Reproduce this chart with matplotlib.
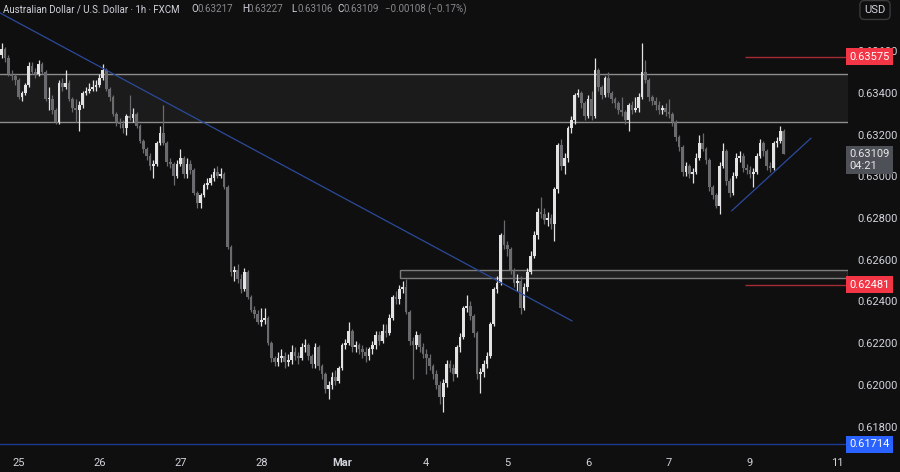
import matplotlib.pyplot as plt
from matplotlib import font_manager
from matplotlib.patches import Rectangle
import numpy as np

# AUD/USD 1h candles (open of each bar = previous close)
first_open = 0.6358
close = [0.6361, 0.6357, 0.6349, 0.6348, 0.6346, 0.6338, 0.6340, 0.6344, 0.6353, 0.6350, 0.6349, 0.6354,
         0.6350, 0.6337, 0.6337, 0.6332, 0.6326, 0.6345, 0.6343, 0.6345, 0.6337, 0.6333, 0.6332, 0.6334,
         0.6340, 0.6341, 0.6342, 0.6343, 0.6344, 0.6347, 0.6351, 0.6342, 0.6338, 0.6330, 0.6326, 0.6325,
         0.6323, 0.6329, 0.6328, 0.6330, 0.6324, 0.6317, 0.6313, 0.6310, 0.6305, 0.6306, 0.6316, 0.6321,
         0.6316, 0.6307, 0.6306, 0.6300, 0.6306, 0.6309, 0.6301, 0.6306, 0.6303, 0.6292, 0.6287, 0.6291,
         0.6296, 0.6297, 0.6299, 0.6302, 0.6300, 0.6301, 0.6295, 0.6266, 0.6254, 0.6255, 0.6251, 0.6246,
         0.6254, 0.6242, 0.6236, 0.6234, 0.6230, 0.6231, 0.6232, 0.6220, 0.6213, 0.6211, 0.6213, 0.6214,
         0.6211, 0.6212, 0.6216, 0.6214, 0.6213, 0.6218, 0.6219, 0.6214, 0.6210, 0.6218, 0.6209, 0.6205,
         0.6198, 0.6200, 0.6204, 0.6202, 0.6208, 0.6219, 0.6220, 0.6226, 0.6218, 0.6219, 0.6217, 0.6216,
         0.6214, 0.6217, 0.6219, 0.6224, 0.6221, 0.6226, 0.6225, 0.6232, 0.6242, 0.6241, 0.6246, 0.6247,
         0.6235, 0.6221, 0.6219, 0.6224, 0.6218, 0.6215, 0.6213, 0.6209, 0.6205, 0.6200, 0.6194, 0.6201,
         0.6210, 0.6208, 0.6205, 0.6218, 0.6223, 0.6237, 0.6238, 0.6233, 0.6225, 0.6205, 0.6206, 0.6210,
         0.6214, 0.6229, 0.6246, 0.6249, 0.6272, 0.6267, 0.6265, 0.6255, 0.6249, 0.6250, 0.6237, 0.6247,
         0.6254, 0.6262, 0.6272, 0.6283, 0.6282, 0.6279, 0.6280, 0.6277, 0.6294, 0.6315, 0.6305, 0.6309,
         0.6323, 0.6327, 0.6339, 0.6340, 0.6335, 0.6329, 0.6337, 0.6329, 0.6351, 0.6343, 0.6339, 0.6347,
         0.6340, 0.6337, 0.6335, 0.6332, 0.6331, 0.6327, 0.6334, 0.6332, 0.6333, 0.6338, 0.6350, 0.6346,
         0.6338, 0.6336, 0.6334, 0.6332, 0.6333, 0.6331, 0.6330, 0.6326, 0.6319, 0.6314, 0.6302, 0.6305,
         0.6301, 0.6302, 0.6309, 0.6316, 0.6313, 0.6308, 0.6295, 0.6291, 0.6286, 0.6305, 0.6312, 0.6298,
         0.6292, 0.6300, 0.6309, 0.6310, 0.6304, 0.6303, 0.6301, 0.6302, 0.6310, 0.6316, 0.6312, 0.6305,
         0.6304, 0.6316, 0.6317, 0.63217, 0.63109]
high = [0.6364, 0.6362, 0.6358, 0.6351, 0.6349, 0.6347, 0.6341, 0.6345, 0.6355, 0.6355, 0.6352, 0.6356,
        0.6355, 0.6351, 0.6343, 0.6339, 0.6333, 0.6346, 0.6347, 0.6351, 0.6346, 0.6338, 0.6337, 0.6336,
        0.6341, 0.6343, 0.6345, 0.6346, 0.6346, 0.6349, 0.6354, 0.6352, 0.6343, 0.6339, 0.6331, 0.6328,
        0.6327, 0.6330, 0.6339, 0.6333, 0.6331, 0.6325, 0.6318, 0.6314, 0.6311, 0.6308, 0.6317, 0.6324,
        0.6334, 0.6317, 0.6309, 0.6307, 0.6308, 0.6313, 0.6310, 0.6309, 0.6308, 0.6304, 0.6293, 0.6292,
        0.6297, 0.6299, 0.6301, 0.6304, 0.6305, 0.6304, 0.6302, 0.6296, 0.6267, 0.6257, 0.6258, 0.6253,
        0.6256, 0.6255, 0.6243, 0.6238, 0.6236, 0.6237, 0.6237, 0.6233, 0.6221, 0.6214, 0.6216, 0.6217,
        0.6216, 0.6215, 0.6219, 0.6218, 0.6216, 0.6220, 0.6222, 0.6220, 0.6215, 0.6220, 0.6219, 0.6210,
        0.6206, 0.6202, 0.6206, 0.6207, 0.6209, 0.6220, 0.6222, 0.6230, 0.6227, 0.6221, 0.6220, 0.6219,
        0.6218, 0.6218, 0.6221, 0.6226, 0.6226, 0.6229, 0.6229, 0.6234, 0.6243, 0.6245, 0.6248, 0.6250,
        0.6251, 0.6236, 0.6223, 0.6226, 0.6225, 0.6220, 0.6217, 0.6215, 0.6210, 0.6207, 0.6202, 0.6203,
        0.6212, 0.6212, 0.6210, 0.6219, 0.6225, 0.6238, 0.6243, 0.6240, 0.6234, 0.6226, 0.6208, 0.6212,
        0.6216, 0.6230, 0.6247, 0.6252, 0.6273, 0.6279, 0.6269, 0.6266, 0.6256, 0.6253, 0.6252, 0.6249,
        0.6256, 0.6264, 0.6274, 0.6285, 0.6290, 0.6285, 0.6283, 0.6282, 0.6295, 0.6316, 0.6318, 0.6311,
        0.6324, 0.6329, 0.6340, 0.6342, 0.6341, 0.6336, 0.6339, 0.6341, 0.6357, 0.6352, 0.6344, 0.6348,
        0.6350, 0.6341, 0.6338, 0.6336, 0.6338, 0.6332, 0.6335, 0.6336, 0.6338, 0.6340, 0.6364, 0.6356,
        0.6347, 0.6339, 0.6338, 0.6336, 0.6334, 0.6335, 0.6337, 0.6331, 0.6327, 0.6320, 0.6315, 0.6307,
        0.6306, 0.6304, 0.6311, 0.6320, 0.6321, 0.6314, 0.6309, 0.6296, 0.6292, 0.6307, 0.6316, 0.6313,
        0.6299, 0.6302, 0.6311, 0.6312, 0.6311, 0.6306, 0.6305, 0.6304, 0.6311, 0.6318, 0.6317, 0.6313,
        0.6307, 0.6317, 0.6319, 0.6324, 0.63227]
low = [0.6357, 0.6355, 0.6348, 0.6346, 0.6344, 0.6337, 0.6336, 0.6339, 0.6343, 0.6349, 0.6347, 0.6348,
       0.6349, 0.6336, 0.6332, 0.6330, 0.6325, 0.6325, 0.6341, 0.6342, 0.6336, 0.6331, 0.6326, 0.6322,
       0.6333, 0.6339, 0.6340, 0.6341, 0.6341, 0.6343, 0.6346, 0.6341, 0.6336, 0.6329, 0.6324, 0.6323,
       0.6321, 0.6320, 0.6327, 0.6326, 0.6323, 0.6316, 0.6311, 0.6308, 0.6303, 0.6299, 0.6305, 0.6315,
       0.6315, 0.6305, 0.6304, 0.6296, 0.6299, 0.6305, 0.6299, 0.6299, 0.6301, 0.6291, 0.6285, 0.6285,
       0.6290, 0.6294, 0.6296, 0.6298, 0.6299, 0.6299, 0.6294, 0.6265, 0.6252, 0.6250, 0.6249, 0.6244,
       0.6245, 0.6241, 0.6235, 0.6232, 0.6229, 0.6228, 0.6229, 0.6219, 0.6211, 0.6209, 0.6209, 0.6211,
       0.6208, 0.6209, 0.6210, 0.6212, 0.6210, 0.6212, 0.6216, 0.6212, 0.6208, 0.6208, 0.6207, 0.6203,
       0.6196, 0.6193, 0.6198, 0.6200, 0.6201, 0.6207, 0.6217, 0.6219, 0.6216, 0.6216, 0.6215, 0.6213,
       0.6211, 0.6212, 0.6215, 0.6217, 0.6219, 0.6220, 0.6223, 0.6224, 0.6231, 0.6239, 0.6239, 0.6244,
       0.6234, 0.6219, 0.6203, 0.6217, 0.6216, 0.6213, 0.6205, 0.6207, 0.6203, 0.6198, 0.6191, 0.6187,
       0.6199, 0.6206, 0.6202, 0.6204, 0.6216, 0.6222, 0.6235, 0.6231, 0.6223, 0.6203, 0.6196, 0.6204,
       0.6208, 0.6213, 0.6228, 0.6244, 0.6248, 0.6265, 0.6262, 0.6253, 0.6247, 0.6245, 0.6234, 0.6236,
       0.6245, 0.6253, 0.6261, 0.6270, 0.6280, 0.6277, 0.6276, 0.6275, 0.6269, 0.6292, 0.6303, 0.6301,
       0.6307, 0.6321, 0.6325, 0.6338, 0.6333, 0.6327, 0.6328, 0.6327, 0.6328, 0.6341, 0.6337, 0.6338,
       0.6338, 0.6335, 0.6333, 0.6330, 0.6329, 0.6325, 0.6322, 0.6330, 0.6331, 0.6331, 0.6337, 0.6345,
       0.6336, 0.6334, 0.6332, 0.6330, 0.6330, 0.6329, 0.6328, 0.6324, 0.6317, 0.6312, 0.6300, 0.6300,
       0.6299, 0.6297, 0.6301, 0.6308, 0.6312, 0.6306, 0.6293, 0.6289, 0.6285, 0.6282, 0.6304, 0.6296,
       0.6290, 0.6291, 0.6299, 0.6307, 0.6302, 0.6301, 0.6299, 0.6295, 0.6301, 0.6309, 0.6310, 0.6303,
       0.6302, 0.6303, 0.6314, 0.6316, 0.63106]

# drawings
zone_top, zone_bottom = 0.63491, 0.63261
small_zone = (118.2, 0.62513, 0.62550)   # start bar, bottom, top
red_levels = [0.63575, 0.62481]
red_start = 220.6
blue_level = 0.61714
down_trend = ([-0.5, 169.2], [0.63784, 0.62307])
up_trend = ([216.6, 240.1], [0.62835, 0.63183])
last_price = 0.63109
countdown = '04:21'

day_pos = [5, 29, 53, 77, 101, 126, 150, 174, 198, 222, 248]
day_labels = ['25', '26', '27', '28', 'Mar', '4', '5', '6', '7', '9', '11']
price_ticks = [0.618, 0.620, 0.622, 0.624, 0.626, 0.628, 0.630, 0.632, 0.634, 0.636]

names = {f.name for f in font_manager.fontManager.ttflist}
fam = 'Liberation Sans Narrow' if 'Liberation Sans Narrow' in names else 'Roboto'
plt.rcParams['font.family'] = [fam, 'DejaVu Sans']

bg = '#0f0f0f'
txt = '#d1d4dc'
up_col, dn_col = '#e3e3e3', '#6a6a6f'

fig = plt.figure(figsize=(9, 4.72), dpi=100, facecolor=bg)
ax = fig.add_axes([0, 20 / 472, 848 / 900, 452 / 472])
ax.set_facecolor(bg)
xmax = 251.1
ax.set_xlim(-0.5, xmax)
ax.set_ylim(0.61678, 0.63846)

# zones and levels
ax.axhspan(zone_bottom, zone_top, color='#1b1b1b', lw=0, zorder=1)
for yv in (zone_top, zone_bottom):
    ax.axhline(yv, color='#8c8c8c', lw=1, zorder=2)
ax.add_patch(Rectangle((small_zone[0], small_zone[1]), xmax - small_zone[0], small_zone[2] - small_zone[1],
                       facecolor='#1f1f1f', edgecolor='#7c7c7c', lw=1, zorder=2))
for yv in red_levels:
    ax.hlines(yv, red_start, xmax, color='#a52a35', lw=1, zorder=2)
ax.axhline(blue_level, color='#1e3a8f', lw=1, zorder=2)
ax.plot(*down_trend, color='#2b4a9c', lw=0.9, zorder=5)
ax.plot(*up_trend, color='#2b4a9c', lw=0.9, zorder=5)

# candles
c = np.array(close)
o = np.array([first_open] + close[:-1])
h = np.array(high)
l = np.array(low)
x = np.arange(len(c))
cols = np.where(c >= o, up_col, dn_col)
ax.vlines(x, l, h, colors=cols, lw=0.9, zorder=3)
ax.bar(x, np.maximum(np.abs(c - o), 0.00004), bottom=np.minimum(o, c), width=0.8,
       color=cols, lw=0, zorder=4)

for s in ax.spines.values():
    s.set_visible(False)

ax.yaxis.tick_right()
ax.set_yticks(price_ticks)
ax.set_yticklabels(['%.5f' % v for v in price_ticks])
ax.tick_params(axis='y', length=0, pad=7, labelsize=8, labelcolor=txt)
ax.set_xticks(day_pos)
ax.set_xticklabels(day_labels)
ax.tick_params(axis='x', length=0, pad=4, labelsize=8, labelcolor=txt)
for t in ax.get_xticklabels():
    if t.get_text() == 'Mar':
        t.set_fontweight('bold')

# price labels on the right scale
tr = ax.get_yaxis_transform()
def tag(y, s, fc, tc='white'):
    ax.text(1.002, y, s, transform=tr, ha='left', va='center', fontsize=8, color=tc, zorder=10,
            clip_on=False, bbox=dict(boxstyle='square,pad=0.3', fc=fc, ec='none'))
tag(red_levels[0], '%.5f' % red_levels[0], '#f23645')
tag(red_levels[1], '%.5f' % red_levels[1], '#f23645')
tag(blue_level, '%.5f' % blue_level, '#2962ff')
ax.text(1.002, 0.63079, '%.5f\n%s' % (last_price, countdown), transform=tr, ha='left', va='center',
        fontsize=8, color='#e8e8e8', linespacing=1.25, zorder=10, clip_on=False,
        bbox=dict(boxstyle='square,pad=0.3', fc='#4e5058', ec='none'))

fig.text(875 / 900, 1 - 10 / 472, 'USD', ha='center', va='center', fontsize=8, color=txt,
         bbox=dict(boxstyle='round,pad=0.4,rounding_size=0.4', fc=bg, ec='#3a3a3a', lw=1))

# header
hy = 1 - 9.5 / 472
fig.text(3 / 900, hy, 'Australian Dollar / U.S. Dollar · 1h · FXCM', fontsize=7, color=txt, va='center')
for px, lab, val in [(191, 'O', '0.63217'), (242, 'H', '0.63227'), (291, 'L', '0.63106'), (337, 'C', '0.63109')]:
    fig.text(px / 900, hy, lab, fontsize=7, color=txt, va='center')
    fig.text((px + 6) / 900, hy, val, fontsize=7, color='#8a8a90', va='center')
fig.text(385 / 900, hy, '\u22120.00108 (\u22120.17%)', fontsize=7, color='#8a8a90', va='center')

fig.savefig('out.png', dpi=100, facecolor=bg)
